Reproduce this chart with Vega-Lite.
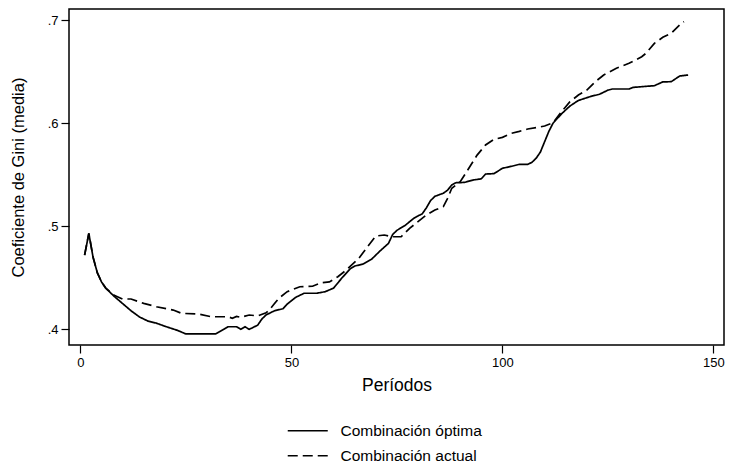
{
  "$schema": "https://vega.github.io/schema/vega-lite/v6.json",
  "width": 655,
  "height": 336,
  "autosize": {"type": "none"},
  "padding": {"left": 69, "top": 9, "right": 6, "bottom": 119},
  "background": "white",
  "config": {
    "view": {"stroke": "black", "strokeWidth": 1.5},
    "font": "Liberation Sans",
    "axis": {
      "domain": false, "grid": false, "tickColor": "black", "tickSize": 8, "tickWidth": 1.2,
      "labelColor": "black", "labelFont": "Liberation Sans", "labelFontSize": 13,
      "titleColor": "black", "titleFont": "Liberation Sans", "titleFontWeight": "normal"
    }
  },
  "data": {"values": [
    {"p":1,"g":0.472,"s":"Combinación óptima"},
    {"p":2,"g":0.493,"s":"Combinación óptima"},
    {"p":3,"g":0.470,"s":"Combinación óptima"},
    {"p":4,"g":0.455,"s":"Combinación óptima"},
    {"p":5,"g":0.446,"s":"Combinación óptima"},
    {"p":6,"g":0.440,"s":"Combinación óptima"},
    {"p":8,"g":0.432,"s":"Combinación óptima"},
    {"p":10,"g":0.425,"s":"Combinación óptima"},
    {"p":12,"g":0.418,"s":"Combinación óptima"},
    {"p":14,"g":0.412,"s":"Combinación óptima"},
    {"p":16,"g":0.408,"s":"Combinación óptima"},
    {"p":18,"g":0.406,"s":"Combinación óptima"},
    {"p":20,"g":0.403,"s":"Combinación óptima"},
    {"p":23,"g":0.399,"s":"Combinación óptima"},
    {"p":25,"g":0.3955,"s":"Combinación óptima"},
    {"p":32,"g":0.3955,"s":"Combinación óptima"},
    {"p":34,"g":0.400,"s":"Combinación óptima"},
    {"p":35,"g":0.4025,"s":"Combinación óptima"},
    {"p":37,"g":0.4025,"s":"Combinación óptima"},
    {"p":38,"g":0.400,"s":"Combinación óptima"},
    {"p":39,"g":0.4025,"s":"Combinación óptima"},
    {"p":40,"g":0.400,"s":"Combinación óptima"},
    {"p":42,"g":0.404,"s":"Combinación óptima"},
    {"p":43,"g":0.410,"s":"Combinación óptima"},
    {"p":44,"g":0.414,"s":"Combinación óptima"},
    {"p":46,"g":0.418,"s":"Combinación óptima"},
    {"p":48,"g":0.420,"s":"Combinación óptima"},
    {"p":49,"g":0.4245,"s":"Combinación óptima"},
    {"p":51,"g":0.431,"s":"Combinación óptima"},
    {"p":53,"g":0.435,"s":"Combinación óptima"},
    {"p":56,"g":0.435,"s":"Combinación óptima"},
    {"p":58,"g":0.4365,"s":"Combinación óptima"},
    {"p":60,"g":0.440,"s":"Combinación óptima"},
    {"p":61,"g":0.445,"s":"Combinación óptima"},
    {"p":62,"g":0.450,"s":"Combinación óptima"},
    {"p":64,"g":0.459,"s":"Combinación óptima"},
    {"p":65,"g":0.4614,"s":"Combinación óptima"},
    {"p":67,"g":0.4633,"s":"Combinación óptima"},
    {"p":69,"g":0.468,"s":"Combinación óptima"},
    {"p":71,"g":0.476,"s":"Combinación óptima"},
    {"p":73,"g":0.4834,"s":"Combinación óptima"},
    {"p":74,"g":0.492,"s":"Combinación óptima"},
    {"p":75,"g":0.496,"s":"Combinación óptima"},
    {"p":77,"g":0.501,"s":"Combinación óptima"},
    {"p":79,"g":0.5077,"s":"Combinación óptima"},
    {"p":80,"g":0.510,"s":"Combinación óptima"},
    {"p":81,"g":0.512,"s":"Combinación óptima"},
    {"p":82,"g":0.518,"s":"Combinación óptima"},
    {"p":83,"g":0.525,"s":"Combinación óptima"},
    {"p":84,"g":0.529,"s":"Combinación óptima"},
    {"p":86,"g":0.532,"s":"Combinación óptima"},
    {"p":87,"g":0.535,"s":"Combinación óptima"},
    {"p":88,"g":0.540,"s":"Combinación óptima"},
    {"p":89,"g":0.5422,"s":"Combinación óptima"},
    {"p":91,"g":0.5425,"s":"Combinación óptima"},
    {"p":93,"g":0.5448,"s":"Combinación óptima"},
    {"p":95,"g":0.546,"s":"Combinación óptima"},
    {"p":96,"g":0.5506,"s":"Combinación óptima"},
    {"p":98,"g":0.551,"s":"Combinación óptima"},
    {"p":100,"g":0.5562,"s":"Combinación óptima"},
    {"p":102,"g":0.558,"s":"Combinación óptima"},
    {"p":104,"g":0.560,"s":"Combinación óptima"},
    {"p":106,"g":0.560,"s":"Combinación óptima"},
    {"p":107,"g":0.562,"s":"Combinación óptima"},
    {"p":108,"g":0.566,"s":"Combinación óptima"},
    {"p":109,"g":0.572,"s":"Combinación óptima"},
    {"p":110,"g":0.582,"s":"Combinación óptima"},
    {"p":111,"g":0.592,"s":"Combinación óptima"},
    {"p":112,"g":0.600,"s":"Combinación óptima"},
    {"p":114,"g":0.609,"s":"Combinación óptima"},
    {"p":116,"g":0.6166,"s":"Combinación óptima"},
    {"p":118,"g":0.622,"s":"Combinación óptima"},
    {"p":121,"g":0.626,"s":"Combinación óptima"},
    {"p":123,"g":0.628,"s":"Combinación óptima"},
    {"p":125,"g":0.632,"s":"Combinación óptima"},
    {"p":126,"g":0.6331,"s":"Combinación óptima"},
    {"p":130,"g":0.6331,"s":"Combinación óptima"},
    {"p":131,"g":0.6347,"s":"Combinación óptima"},
    {"p":136,"g":0.6363,"s":"Combinación óptima"},
    {"p":138,"g":0.640,"s":"Combinación óptima"},
    {"p":140,"g":0.6402,"s":"Combinación óptima"},
    {"p":142,"g":0.6457,"s":"Combinación óptima"},
    {"p":144,"g":0.6467,"s":"Combinación óptima"},
    {"p":1,"g":0.472,"s":"Combinación actual"},
    {"p":2,"g":0.493,"s":"Combinación actual"},
    {"p":3,"g":0.470,"s":"Combinación actual"},
    {"p":4,"g":0.455,"s":"Combinación actual"},
    {"p":5,"g":0.446,"s":"Combinación actual"},
    {"p":6,"g":0.440,"s":"Combinación actual"},
    {"p":8,"g":0.433,"s":"Combinación actual"},
    {"p":10,"g":0.4294,"s":"Combinación actual"},
    {"p":12,"g":0.4294,"s":"Combinación actual"},
    {"p":15,"g":0.4252,"s":"Combinación actual"},
    {"p":18,"g":0.4219,"s":"Combinación actual"},
    {"p":22,"g":0.4187,"s":"Combinación actual"},
    {"p":24,"g":0.4155,"s":"Combinación actual"},
    {"p":28,"g":0.4148,"s":"Combinación actual"},
    {"p":31,"g":0.4122,"s":"Combinación actual"},
    {"p":35,"g":0.4122,"s":"Combinación actual"},
    {"p":36,"g":0.4107,"s":"Combinación actual"},
    {"p":37,"g":0.4125,"s":"Combinación actual"},
    {"p":38,"g":0.4116,"s":"Combinación actual"},
    {"p":40,"g":0.4139,"s":"Combinación actual"},
    {"p":42,"g":0.413,"s":"Combinación actual"},
    {"p":44,"g":0.416,"s":"Combinación actual"},
    {"p":45,"g":0.420,"s":"Combinación actual"},
    {"p":46,"g":0.425,"s":"Combinación actual"},
    {"p":47,"g":0.430,"s":"Combinación actual"},
    {"p":49,"g":0.4365,"s":"Combinación actual"},
    {"p":52,"g":0.4413,"s":"Combinación actual"},
    {"p":55,"g":0.4418,"s":"Combinación actual"},
    {"p":57,"g":0.4452,"s":"Combinación actual"},
    {"p":59,"g":0.446,"s":"Combinación actual"},
    {"p":61,"g":0.451,"s":"Combinación actual"},
    {"p":63,"g":0.4575,"s":"Combinación actual"},
    {"p":66,"g":0.469,"s":"Combinación actual"},
    {"p":68,"g":0.480,"s":"Combinación actual"},
    {"p":70,"g":0.4905,"s":"Combinación actual"},
    {"p":72,"g":0.4915,"s":"Combinación actual"},
    {"p":74,"g":0.4898,"s":"Combinación actual"},
    {"p":76,"g":0.4898,"s":"Combinación actual"},
    {"p":78,"g":0.498,"s":"Combinación actual"},
    {"p":80,"g":0.5044,"s":"Combinación actual"},
    {"p":82,"g":0.511,"s":"Combinación actual"},
    {"p":84,"g":0.5157,"s":"Combinación actual"},
    {"p":86,"g":0.519,"s":"Combinación actual"},
    {"p":87,"g":0.527,"s":"Combinación actual"},
    {"p":88,"g":0.5368,"s":"Combinación actual"},
    {"p":90,"g":0.5432,"s":"Combinación actual"},
    {"p":92,"g":0.556,"s":"Combinación actual"},
    {"p":94,"g":0.569,"s":"Combinación actual"},
    {"p":96,"g":0.5788,"s":"Combinación actual"},
    {"p":98,"g":0.5843,"s":"Combinación actual"},
    {"p":100,"g":0.5862,"s":"Combinación actual"},
    {"p":102,"g":0.590,"s":"Combinación actual"},
    {"p":104,"g":0.592,"s":"Combinación actual"},
    {"p":106,"g":0.5943,"s":"Combinación actual"},
    {"p":108,"g":0.5956,"s":"Combinación actual"},
    {"p":110,"g":0.5972,"s":"Combinación actual"},
    {"p":112,"g":0.6004,"s":"Combinación actual"},
    {"p":114,"g":0.6111,"s":"Combinación actual"},
    {"p":116,"g":0.6208,"s":"Combinación actual"},
    {"p":118,"g":0.6273,"s":"Combinación actual"},
    {"p":120,"g":0.6321,"s":"Combinación actual"},
    {"p":122,"g":0.6402,"s":"Combinación actual"},
    {"p":124,"g":0.6467,"s":"Combinación actual"},
    {"p":127,"g":0.6532,"s":"Combinación actual"},
    {"p":130,"g":0.658,"s":"Combinación actual"},
    {"p":133,"g":0.6644,"s":"Combinación actual"},
    {"p":134,"g":0.6677,"s":"Combinación actual"},
    {"p":136,"g":0.6774,"s":"Combinación actual"},
    {"p":138,"g":0.6832,"s":"Combinación actual"},
    {"p":140,"g":0.6871,"s":"Combinación actual"},
    {"p":142,"g":0.6952,"s":"Combinación actual"},
    {"p":143,"g":0.6984,"s":"Combinación actual"}
  ]},
  "mark": {"type": "line", "color": "black", "strokeWidth": 1.7, "clip": true},
  "encoding": {
    "x": {
      "field": "p", "type": "quantitative",
      "scale": {"domain": [-2.7, 152.5], "nice": false, "zero": false},
      "axis": {"values": [0, 50, 100, 150], "title": "Períodos", "titleFontSize": 17.5, "titlePadding": 7, "labelPadding": 3}
    },
    "y": {
      "field": "g", "type": "quantitative",
      "scale": {"domain": [0.3848, 0.7107], "nice": false, "zero": false},
      "axis": {"values": [0.4, 0.5, 0.6, 0.7], "labelExpr": "replace(format(datum.value, '.1f'), '0.', '.')", "title": "Coeficiente de Gini (media)", "titleFontSize": 16.5, "titlePadding": 21, "labelPadding": 3}
    },
    "strokeDash": {
      "field": "s", "type": "nominal",
      "scale": {"domain": ["Combinación óptima", "Combinación actual"], "range": [[1, 0], [10, 5]]},
      "legend": {
        "orient": "none", "legendX": 231, "legendY": 414, "title": null,
        "symbolType": "M-3,0H3", "symbolSize": 178, "symbolStrokeColor": "black", "symbolStrokeWidth": 1.6, "symbolFillColor": "transparent",
        "labelFontSize": 15.5, "labelColor": "black", "labelFont": "Liberation Sans", "labelOffset": 25,
        "rowPadding": 8
      }
    }
  }
}
